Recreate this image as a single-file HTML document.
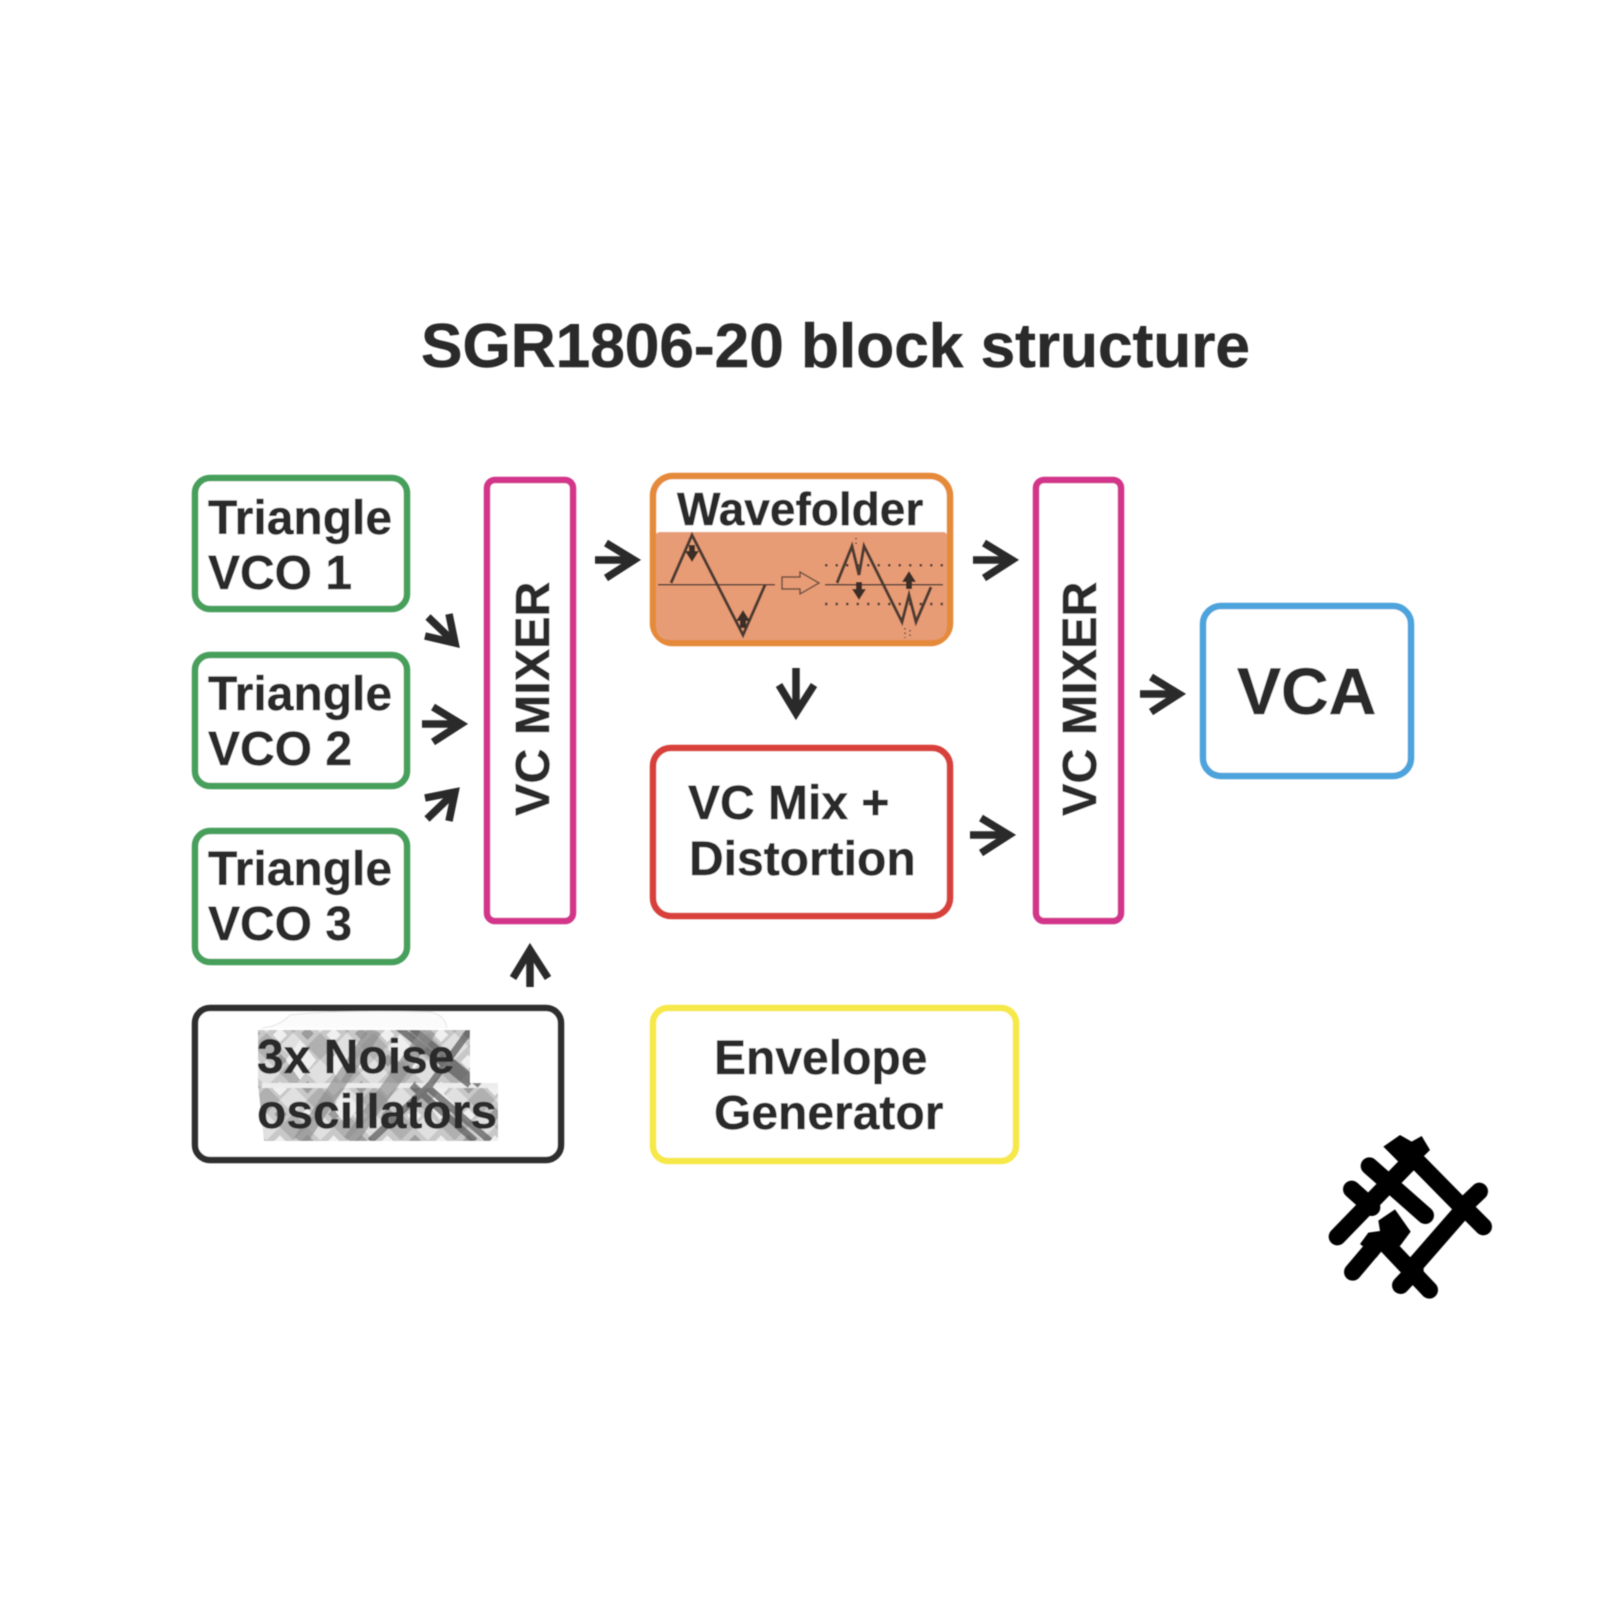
<!DOCTYPE html>
<html><head><meta charset="utf-8"><style>
html,body{margin:0;padding:0;background:#fff}
svg{display:block}
text{font-family:"Liberation Sans",sans-serif;font-weight:700;fill:#2a2a2a;stroke:#2a2a2a;stroke-width:.5px}
</style></head><body>
<svg width="1600" height="1600" viewBox="0 0 1600 1600" xmlns="http://www.w3.org/2000/svg">
<defs>
<filter id="soft" filterUnits="userSpaceOnUse" x="0" y="0" width="1600" height="1600"><feGaussianBlur stdDeviation="0.6"/></filter>
<clipPath id="nc"><path d="M258 1030H470V1083H498V1141H264L258 1084Z"/></clipPath>
<pattern id="dm" width="38" height="38" patternUnits="userSpaceOnUse" patternTransform="rotate(45 258 1030)">
<rect width="38" height="38" fill="#c8c8c8"/>
<rect width="19" height="19" fill="#b0b0b0"/>
<rect x="19" y="19" width="19" height="19" fill="#e0e0e0"/>
<rect x="6" y="25" width="10" height="10" fill="#f0f0f0"/>
<rect x="25" y="5" width="9" height="9" fill="#9c9c9c"/>
</pattern>
</defs>
<rect width="1600" height="1600" fill="#fff"/>
<g filter="url(#soft)">

<text x="421" y="367" font-size="62" textLength="829" lengthAdjust="spacingAndGlyphs">SGR1806-20 block structure</text>

<g fill="#fff" stroke-width="6.5">
<rect x="195" y="478" width="212" height="131" rx="15" stroke="#479f5c"/>
<rect x="195" y="655" width="212" height="131" rx="15" stroke="#479f5c"/>
<rect x="195" y="831" width="212" height="131" rx="15" stroke="#479f5c"/>
<rect x="487" y="480" width="86" height="441" rx="8" stroke="#d23489"/>
<rect x="1036" y="480" width="85" height="441" rx="8" stroke="#d23489"/>
<rect x="653" y="476" width="297" height="167" rx="20" stroke="#e58a3a"/>
<rect x="653" y="748" width="297" height="168" rx="18" stroke="#d8403a"/>
<rect x="1203" y="606" width="208" height="170" rx="18" stroke="#4da3dc"/>
<rect x="195" y="1008" width="366" height="152" rx="15" stroke="#2e2e2e"/>
<rect x="653" y="1008" width="363" height="153" rx="15" stroke="#f6e84a"/>
</g>

<path d="M656 536Q656 532 660 532H943Q947 532 947 536V625Q947 640 932 640H671Q656 640 656 625Z" fill="#e79c76"/>

<!-- waveforms -->
<g fill="none" stroke="#4b3a30">
<path d="M658 584.7H775M825 584.7H943" stroke-width="1.5"/>
<path d="M671 583L692 535L743 635L765 585" stroke-width="3"/>
<path d="M837 583L852 546L859 575L864 546L902 622L909 595L916 622L931 587" stroke-width="3"/>
<path d="M825 565.3H943M825 604H943" stroke-width="2.5" stroke-dasharray="2.5 8"/>
<path d="M856 538V546M905 628V638M910 630V636" stroke-width="1.5" stroke-dasharray="1.5 3"/>
</g>
<g fill="#3a2f28">
<path d="M689 545h6v6h4l-7 11l-7-11h4z"/>
<path d="M740 628h6v-7h4l-7-11l-7 11h4z"/>
<path d="M856 582h6v7h4l-7 11l-7-11h4z"/>
<path d="M906 589h6v-7h4l-7-11l-7 11h4z"/>
</g>
<path d="M782 577H800V572L819 583L800 594V589H782Z" fill="none" stroke="#6b5040" stroke-width="1.5"/>

<!-- noise -->
<g clip-path="url(#nc)">
<rect x="250" y="1025" width="255" height="120" fill="url(#dm)"/>
<rect x="262" y="1083" width="236" height="5" fill="#ececec"/>
<g fill="#efefef">
<path d="M300 1040l16 20l-16 20l-14-20z"/><path d="M345 1090l14 18l-14 16l-12-16z"/>
<path d="M440 1090l14 14l-14 16l-12-16z"/><path d="M400 1035l12 14l-12 14l-12-14z"/>
<path d="M340 1048l12 16l-12 18l-12-18z"/>
</g>
<g fill="none" stroke="#5f5f5f" stroke-width="7" opacity=".75">
<path d="M395 1025L470 1085"/><path d="M408 1025L480 1085"/>
<path d="M412 1085L475 1141"/><path d="M425 1085L490 1141"/>
<path d="M470 1030L430 1085L370 1141"/>
</g>
<g fill="none" stroke="#8c8c8c" stroke-width="14" opacity=".65">
<path d="M300 1141L375 1030"/><path d="M350 1141L430 1030"/>
</g>
</g>
<path d="M262 1028Q280 1026 290 1015Q330 1010 430 1012Q445 1015 447 1028" fill="#fbfbfb" stroke="#e4e4e4" stroke-width="1"/>

<!-- labels -->
<g font-size="48">
<text x="208" y="534">Triangle</text><text x="208" y="589">VCO 1</text>
<text x="208" y="710">Triangle</text><text x="208" y="765">VCO 2</text>
<text x="208" y="885">Triangle</text><text x="208" y="940">VCO 3</text>
<text x="688" y="819">VC Mix +</text><text x="689" y="875">Distortion</text>
<text x="714" y="1074">Envelope</text><text x="714" y="1129">Generator</text>
<text x="257" y="1073">3x Noise</text><text x="257" y="1128">oscillators</text>
</g>
<text x="677" y="525" font-size="46">Wavefolder</text>
<text x="1237" y="714" font-size="66">VCA</text>
<text transform="translate(549 816) rotate(-90)" font-size="48.5">VC MIXER</text>
<text transform="translate(1096 816) rotate(-90)" font-size="48.5">VC MIXER</text>

<!-- arrows -->
<g fill="none" stroke="#2a2a2a" stroke-width="7.5">
<path d="M428 617L455 643M449 614L455 643L425 636"/>
<path d="M422 724H458M433 707L461 724L433 742"/>
<path d="M427 819L455 792M425 798L455 792L449 821"/>
<path d="M595 560H632M606 543L634 560L606 578"/>
<path d="M973 560H1010M984 543L1012 560L984 578"/>
<path d="M970 835H1007M981 818L1009 835L981 853"/>
<path d="M1140 694H1177M1151 677L1179 694L1151 712"/>
<path d="M796 668V710M779 685L796 713L814 685"/>
<path d="M530 987V952M513 978L530 950L548 978"/>
</g>

<!-- logo -->
<g transform="translate(1300 1100) scale(.3333)" fill="none" stroke="#000" stroke-width="52" stroke-linecap="round">
<path d="M112 410L340 175"/>
<path d="M357 190L485 320"/>
<path d="M480 340L345 495"/>
<path d="M158 516L235 425"/>
<path d="M208 198L376 346"/>
<path d="M155 268L215 322"/>
<path d="M265 440L388 570"/>
<path d="M302 556L345 510"/>
<path d="M490 320L538 274"/>
<path d="M490 320L550 380"/>
<path d="M250 140L300 105L335 125L365 108L390 150L345 195L300 190Z" fill="#000" stroke="none"/>
<path d="M180 432L205 398L240 393L235 362L285 328L332 395L300 438L265 424L230 472Z" fill="#000" stroke="none"/>
</g>
</g>
</svg>
</body></html>
